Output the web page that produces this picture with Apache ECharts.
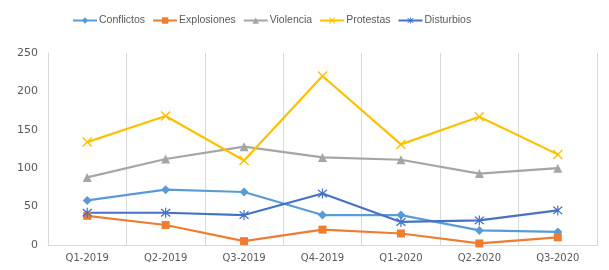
<!DOCTYPE html>
<html><head><meta charset="utf-8">
<script src="https://cdn.jsdelivr.net/npm/echarts@6/dist/echarts.min.js"></script>
<style>html,body{margin:0;padding:0;background:#fff}#c{width:609px;height:270px}</style>
</head><body><div id="c"></div>
<script>
const categories = ['Q1-2019','Q2-2019','Q3-2019','Q4-2019','Q1-2020','Q2-2020','Q3-2020'];
const conflictos = [58, 72, 69, 39, 39, 19, 17];
const explosiones = [38, 26, 5, 20, 15, 2, 10];
const violencia = [88, 112, 128, 114, 111, 93, 100];
const protestas = [134, 168, 110, 220, 131, 167, 118];
const disturbios = [42, 42, 39, 67, 30, 32, 45];
const yTicks = {min: 0, max: 250, interval: 50};

const X = 'path://M0,1L1,0L5,4L9,0L10,1L6,5L10,9L9,10L5,6L1,10L0,9L4,5Z';
const AST = 'path://M0,1L1,0L5,4L9,0L10,1L6,5L10,9L9,10L5,6L1,10L0,9L4,5Z M4.4,-1L5.6,-1L5.6,11L4.4,11Z';

function s(name, data, color, symbol, size){
  return {name, type:'line', data, symbol, symbolSize:size, showAllSymbol:true,
    lineStyle:{color, width:2.2}, itemStyle:{color}, z: 2};
}
const chart = echarts.init(document.getElementById('c'), null, {renderer:'canvas'});
chart.setOption({
  animation:false,
  color:['#5B9BD5','#ED7D31','#A5A5A5','#FFC000','#4472C4'],
  legend:{top:10, left:67, itemWidth:24, itemHeight:8, itemGap:7,
    textStyle:{color:'#595959', fontSize:10.5, fontFamily:'Liberation Sans', padding:[0,0,0,-3]}},
  grid:{left:48, right:12, top:53, bottom:25},
  xAxis:{type:'category', data:categories, boundaryGap:true,
    axisLine:{lineStyle:{color:'#d9d9d9'}}, axisTick:{show:false},
    splitLine:{show:true, lineStyle:{color:'#d9d9d9', width:1}},
    axisLabel:{color:'#595959', fontSize:10, fontFamily:'DejaVu Sans', margin:8}},
  yAxis:{type:'value', min:yTicks.min, max:yTicks.max, interval:yTicks.interval,
    axisLine:{show:true, lineStyle:{color:'#d9d9d9'}}, axisTick:{show:false},
    splitLine:{show:false},
    axisLabel:{color:'#595959', fontSize:11, fontFamily:'DejaVu Sans', margin:10}},
  series:[
    s('Conflictos', conflictos, '#5B9BD5', 'diamond', 9),
    s('Explosiones', explosiones, '#ED7D31', 'rect', 8),
    s('Violencia', violencia, '#A5A5A5', 'triangle', 9),
    s('Protestas', protestas, '#FFC000', X, 10),
    s('Disturbios', disturbios, '#4472C4', AST, 10)
  ]
});
</script></body></html>
